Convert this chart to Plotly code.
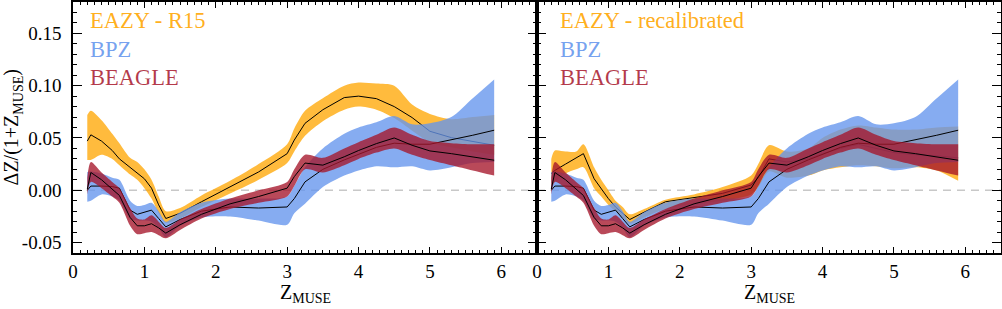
import plotly.graph_objects as go

# ---------------- data ----------------
Z = [0.2, 0.25, 0.4, 0.55, 0.65, 0.8, 0.9, 1.0, 1.1, 1.2, 1.3, 1.5, 1.8, 2.2, 2.6,
     3.0, 3.1, 3.25, 3.5, 3.8, 4.0, 4.25, 4.5, 4.75, 5.0, 5.3, 5.6, 5.9]

# EAZY - R15 (left panel)
eazy_r15_med = [0.047, 0.053, 0.047, 0.038, 0.030, 0.022, 0.017, 0.011, 0.002, -0.014, -0.027, -0.022,
                -0.011, 0.003, 0.0175, 0.035, 0.048, 0.064, 0.077, 0.0886, 0.090, 0.0876, 0.080,
                0.0695, 0.0564, 0.0503, 0.0468, 0.043]
eazy_r15_hi = [0.072, 0.076, 0.067, 0.054, 0.045, 0.031, 0.027, 0.020, 0.010, -0.006, -0.020, -0.017,
               -0.005, 0.009, 0.025, 0.044, 0.059, 0.076, 0.088, 0.100, 0.103, 0.102, 0.100, 0.082,
               0.073, 0.068, 0.070, 0.072]
eazy_r15_lo = [0.029, 0.029, 0.034, 0.030, 0.024, 0.015, 0.010, 0.002, -0.008, -0.022, -0.031, -0.027,
               -0.016, -0.003, 0.010, 0.026, 0.037, 0.052, 0.066, 0.077, 0.080, 0.077, 0.069, 0.057,
               0.046, 0.041, 0.037, 0.034]

# EAZY - recalibrated (right panel)
eazy_rec_med = [0.016, 0.019, 0.025, 0.031, 0.035, 0.011, 0.001, -0.008, -0.016, -0.022, -0.028, -0.021,
                -0.011, -0.007, -0.003, 0.005, 0.012, 0.030, 0.027, 0.030, 0.035, 0.040, 0.044, 0.040,
                0.036, 0.034, 0.033, 0.031]
eazy_rec_hi = [0.030, 0.038, 0.037, 0.037, 0.044, 0.022, 0.010, 0.0, -0.010, -0.016, -0.023, -0.018,
               -0.009, -0.004, 0.003, 0.014, 0.025, 0.043, 0.037, 0.040, 0.050, 0.058, 0.062, 0.060,
               0.058, 0.058, 0.060, 0.061]
eazy_rec_lo = [0.005, 0.008, 0.016, 0.020, 0.022, 0.002, -0.006, -0.014, -0.020, -0.026, -0.032, -0.026,
               -0.018, -0.013, -0.010, -0.004, 0.003, 0.018, 0.012, 0.014, 0.019, 0.022, 0.024, 0.023,
               0.021, 0.022, 0.019, 0.009]

# BPZ (both panels)
bpz_med = [0.0, 0.004, 0.004, 0.0035, 0.002, -0.019, -0.023, -0.021, -0.019, -0.027, -0.035, -0.028,
           -0.020, -0.016, -0.017, -0.016, -0.008, 0.008, 0.020, 0.029, 0.034, 0.041, 0.045, 0.044,
           0.044, 0.048, 0.0526, 0.0574]
bpz_hi = [0.0175, 0.018, 0.016, 0.012, 0.010, -0.010, -0.015, -0.014, -0.012, -0.020, -0.030, -0.021,
          -0.012, -0.008, -0.008, -0.006, 0.004, 0.022, 0.040, 0.054, 0.060, 0.065, 0.071, 0.063,
          0.064, 0.070, 0.088, 0.106]
bpz_lo = [-0.011, -0.010, -0.004, -0.006, -0.010, -0.027, -0.029, -0.029, -0.030, -0.036, -0.045, -0.034,
          -0.026, -0.025, -0.029, -0.033, -0.022, -0.013, 0.003, 0.014, 0.019, 0.023, 0.022, 0.023,
          0.019, 0.022, 0.026, 0.027]

# BEAGLE (both panels)
beagle_med = [0.001, 0.017, 0.010, 0.001, -0.005, -0.026, -0.034, -0.034, -0.032, -0.036, -0.041, -0.033,
              -0.023, -0.013, -0.006, 0.002, 0.013, 0.026, 0.024, 0.032, 0.038, 0.0446, 0.050, 0.043,
              0.0376, 0.035, 0.032, 0.0287]
beagle_hi = [0.012, 0.027, 0.017, 0.008, 0.002, -0.017, -0.027, -0.028, -0.024, -0.030, -0.036, -0.028,
             -0.018, -0.008, 0.0, 0.008, 0.020, 0.034, 0.031, 0.040, 0.046, 0.053, 0.060, 0.053,
             0.047, 0.045, 0.044, 0.044]
beagle_lo = [-0.004, 0.008, 0.002, -0.006, -0.012, -0.034, -0.042, -0.041, -0.040, -0.043, -0.046, -0.038,
             -0.027, -0.018, -0.012, -0.006, 0.004, 0.020, 0.017, 0.024, 0.030, 0.036, 0.040, 0.034,
             0.029, 0.024, 0.019, 0.014]

y_tickvals = [-0.05, 0.0, 0.05, 0.10, 0.15]
y_ticktext = ["-0.05", "0.00", "0.05", "0.10", "0.15"]
x_tickvals = [0, 1, 2, 3, 4, 5, 6]

left_labels = ["EAZY - R15", "BPZ", "BEAGLE"]
right_labels = ["EAZY - recalibrated", "BPZ", "BEAGLE"]

# ---------------- styles ----------------
FONT = "Liberation Serif, Times New Roman, serif"
fills = {"orange": "rgba(255,165,0,0.76)", "blue": "rgba(100,149,237,0.78)", "red": "rgba(165,22,42,0.78)"}
textcols = {"orange": "rgba(255,165,0,0.9)", "blue": "rgba(100,149,237,0.9)", "red": "rgba(170,30,50,0.88)"}

fig = go.Figure()

def add_series(xa, ya, med, lo, hi, key):
    fig.add_trace(go.Scatter(x=Z, y=lo, mode="lines", line=dict(width=0, shape="spline", smoothing=0.8),
                             xaxis=xa, yaxis=ya, showlegend=False, hoverinfo="skip"))
    fig.add_trace(go.Scatter(x=Z, y=hi, mode="lines", line=dict(width=0, shape="spline", smoothing=0.8),
                             fill="tonexty", fillcolor=fills[key],
                             xaxis=xa, yaxis=ya, showlegend=False, hoverinfo="skip"))
    fig.add_trace(go.Scatter(x=Z, y=med, mode="lines", line=dict(width=1, color="black"),
                             xaxis=xa, yaxis=ya, showlegend=False))

add_series("x", "y", eazy_r15_med, eazy_r15_lo, eazy_r15_hi, "orange")
add_series("x", "y", bpz_med, bpz_lo, bpz_hi, "blue")
add_series("x", "y", beagle_med, beagle_lo, beagle_hi, "red")
add_series("x2", "y2", eazy_rec_med, eazy_rec_lo, eazy_rec_hi, "orange")
add_series("x2", "y2", bpz_med, bpz_lo, bpz_hi, "blue")
add_series("x2", "y2", beagle_med, beagle_lo, beagle_hi, "red")

xcommon = dict(range=[0, 6.5], tickvals=x_tickvals, ticks="inside", ticklen=6, tickwidth=1.2,
               tickcolor="black", showline=True, linecolor="black", linewidth=1.5, mirror="allticks",
               showgrid=False, zeroline=False, ticklabelstandoff=0,
               tickfont=dict(family=FONT, size=19, color="black"),
               minor=dict(dtick=0.1, tick0=0, ticks="inside", ticklen=3.5, tickwidth=1, tickcolor="black"))
ycommon = dict(range=[-0.06, 0.18], tickvals=y_tickvals, ticktext=y_ticktext, ticks="inside", ticklen=9,
               tickwidth=1.2, tickcolor="black", showline=True, linecolor="black", linewidth=1.5,
               mirror="allticks", showgrid=False, zeroline=False, ticklabelstandoff=6,
               tickfont=dict(family=FONT, size=19, color="black"),
               minor=dict(dtick=0.01, tick0=0, ticks="inside", ticklen=4.5, tickwidth=1, tickcolor="black"))

fig.update_layout(
    width=1002, height=309,
    margin=dict(l=73, r=1, t=2, b=56, autoexpand=False),
    paper_bgcolor="white", plot_bgcolor="white",
    font=dict(family=FONT),
    xaxis=dict(domain=[0, 0.5], anchor="y", **xcommon),
    yaxis=dict(domain=[0, 1], anchor="x", **ycommon),
    xaxis2=dict(domain=[0.5, 1], anchor="y2", **xcommon),
    yaxis2=dict(domain=[0, 1], anchor="x2", showticklabels=False, **ycommon),
    showlegend=False,
)

# zero dashed lines
for xr, yr in (("x domain", "y"), ("x2 domain", "y2")):
    fig.add_shape(type="line", xref=xr, yref=yr, x0=0, x1=1, y0=0, y1=0, layer="below",
                  line=dict(color="rgb(200,200,200)", width=1.5, dash="8px,6px"))

# legend-like labels
keys = ["orange", "blue", "red"]
ypos = [0.926, 0.811, 0.699]
for lbls, xr, yr, x0 in ((left_labels, "x domain", "y domain", 0.032),
                         (right_labels, "x2 domain", "y2 domain", 0.045)):
    for t, k, yy in zip(lbls, keys, ypos):
        fig.add_annotation(text=t, xref=xr, yref=yr, x=x0, y=yy, xanchor="left", yanchor="middle",
                           showarrow=False, font=dict(family=FONT, size=22.5, color=textcols[k]))

# axis titles
for xc in (0.25, 0.75):
    fig.add_annotation(text="Z<sub>MUSE</sub>", xref="paper", yref="paper", x=xc, y=-0.162,
                       xanchor="center", yanchor="middle", showarrow=False,
                       font=dict(family=FONT, size=20, color="black"))
fig.add_annotation(text="ΔZ/(1+Z<sub>MUSE</sub>)", xref="paper", yref="paper", x=-0.0647, y=0.5,
                   xanchor="center", yanchor="middle", textangle=-90, showarrow=False,
                   font=dict(family=FONT, size=20, color="black"))

fig.write_html("out.html", config={"displayModeBar": False},
               post_script="document.body.style.margin='0';document.body.style.padding='0';")
